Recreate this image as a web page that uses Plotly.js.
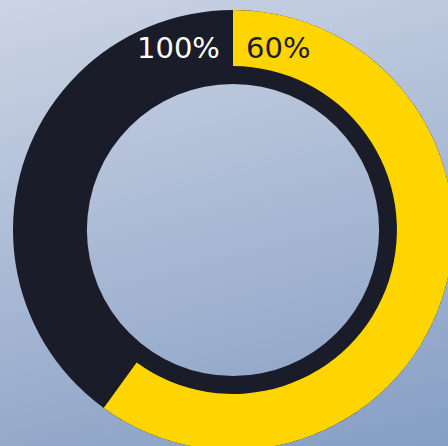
<!DOCTYPE html>
<html>
<head>
<meta charset="utf-8">
<script src="https://cdn.plot.ly/plotly-3.0.1.min.js"></script>
<style>
html,body{margin:0;padding:0;width:448px;height:446px;overflow:hidden;
background:linear-gradient(165deg,#ccd4e4 0%,#a9b9d4 50%,#859ec4 100%);}
#chart{position:absolute;left:0;top:0;width:466px;height:460px;}
</style>
</head>
<body>
<div id="chart"></div>
<script>
// Data
var trackLabels = ["Total"];
var trackValues = [100];
var progressLabels = ["Progress", "Remaining"];
var progressValues = [60, 40];
var labelTexts = ["100%", "60%"];

var dark = "#1a1d29";
var yellow = "#ffd500";

var traces = [
  {
    type: "pie",
    labels: trackLabels,
    values: trackValues,
    hole: 0.664,
    sort: false,
    direction: "clockwise",
    rotation: 0,
    marker: {colors: [dark], line: {width: 0}},
    textinfo: "none",
    hoverinfo: "skip",
    showlegend: false
  },
  {
    type: "pie",
    labels: progressLabels,
    values: progressValues,
    hole: 0.745,
    sort: false,
    direction: "clockwise",
    rotation: 0,
    marker: {colors: [yellow, "rgba(0,0,0,0)"], line: {width: 0}},
    textinfo: "none",
    hoverinfo: "skip",
    showlegend: false
  }
];

var layout = {
  width: 466,
  height: 460,
  margin: {l: 13, r: 13, t: 10, b: 10, pad: 0},
  paper_bgcolor: "rgba(0,0,0,0)",
  plot_bgcolor: "rgba(0,0,0,0)",
  showlegend: false,
  annotations: [
    {text: labelTexts[0], xref: "paper", yref: "paper", x: 0.5, y: 0.913,
     xanchor: "right", yanchor: "middle", xshift: -11, showarrow: false,
     font: {family: "DejaVu Sans", size: 29, color: "#ffffff"}},
    {text: labelTexts[1], xref: "paper", yref: "paper", x: 0.5, y: 0.913,
     xanchor: "left", yanchor: "middle", xshift: 11, showarrow: false,
     font: {family: "DejaVu Sans", size: 29, color: dark}}
  ]
};

Plotly.newPlot("chart", traces, layout, {displayModeBar: false, staticPlot: true});
</script>
</body>
</html>
